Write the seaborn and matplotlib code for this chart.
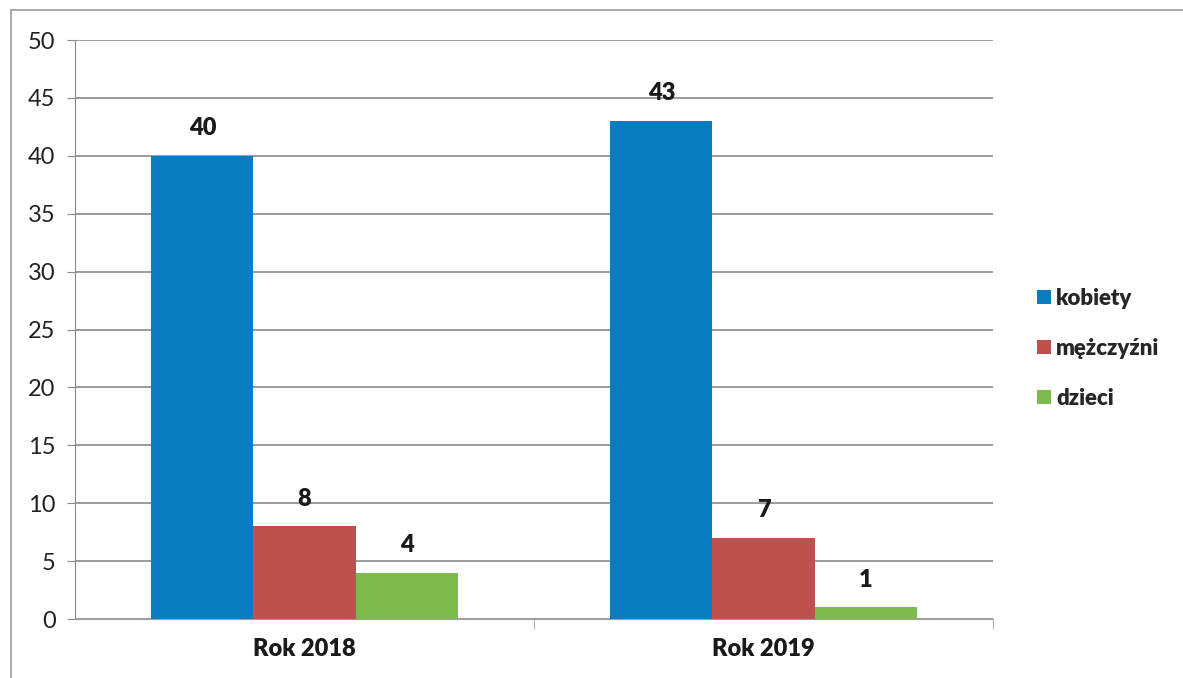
import pandas as pd
import matplotlib.pyplot as plt
import seaborn as sns
from matplotlib.patches import Patch
from matplotlib.lines import Line2D

# dane
lata = ['Rok 2018', 'Rok 2019']
grupy = ['kobiety', 'mężczyźni', 'dzieci']
kobiety = [40, 43]
mezczyzni = [8, 7]
dzieci = [4, 1]
kolory = ['#0A7CC1', '#C0504D', '#7EBA4C']

df = pd.DataFrame({
    'rok': lata * 3,
    'grupa': [grupy[0]] * 2 + [grupy[1]] * 2 + [grupy[2]] * 2,
    'wartosc': kobiety + mezczyzni + dzieci,
})

sns.set_style('white')
plt.rcParams['font.family'] = ['Lato', 'DejaVu Sans']

fig = plt.figure(figsize=(11.83, 6.78), dpi=100)
ax = fig.add_axes([0.0634, 0.087, 0.776, 0.854])

sns.barplot(data=df, x='rok', y='wartosc', hue='grupa', hue_order=grupy,
            palette=kolory, width=0.667, saturation=1, ax=ax, legend=False,
            linewidth=0, edgecolor='none', zorder=3)

# etykiety nad słupkami
for cont in ax.containers:
    for bar in cont:
        h = bar.get_height()
        ax.annotate(f'{h:.0f}', (bar.get_x() + bar.get_width() / 2, h),
                    xytext=(0, 12), textcoords='offset points',
                    ha='center', va='bottom', fontsize=17, fontweight='heavy',
                    color='#1a1a1a')

ax.set_ylim(0, 50)
ax.set_yticks(range(0, 51, 5))
ax.set_xlim(-0.5, 1.5)
ax.yaxis.grid(True, color='#8a8a8a', linewidth=1.2, zorder=0)
ax.set_axisbelow(True)
ax.set_xlabel('')
ax.set_ylabel('')

for s in ['top', 'right']:
    ax.spines[s].set_visible(False)
ax.spines['left'].set_color('#8a8a8a')
ax.spines['bottom'].set_color('#a0a0a0')

ax.tick_params(axis='y', length=6, color='#8a8a8a', labelsize=17,
               labelcolor='#222222', direction='out', left=True, pad=8)
ax.tick_params(axis='x', length=0, labelsize=17, pad=14)
for lab in ax.get_xticklabels():
    lab.set_fontweight('heavy')
    lab.set_color('#1a1a1a')
ax.set_xticks([0.5, 1.5], minor=True)
ax.tick_params(axis='x', which='minor', length=7, color='#a0a0a0',
               direction='out', bottom=True)

# legenda
uchwyty = [Patch(facecolor=c, edgecolor='none') for c in kolory]
leg = fig.legend(uchwyty, grupy, loc='center left',
                 bbox_to_anchor=(0.86, 0.486), frameon=False,
                 prop={'size': 16, 'weight': 'heavy'}, handlelength=0.6,
                 handleheight=0.6, handletextpad=0.25, labelspacing=1.3)

# ramka
fig.add_artist(Line2D([0.009, 0.009], [0, 0.985], color='#9a9a9a', lw=1.2,
                      transform=fig.transFigure))
fig.add_artist(Line2D([0.009, 1.0], [0.985, 0.985], color='#9a9a9a', lw=1.2,
                      transform=fig.transFigure))

fig.savefig('out.png', dpi=100)
